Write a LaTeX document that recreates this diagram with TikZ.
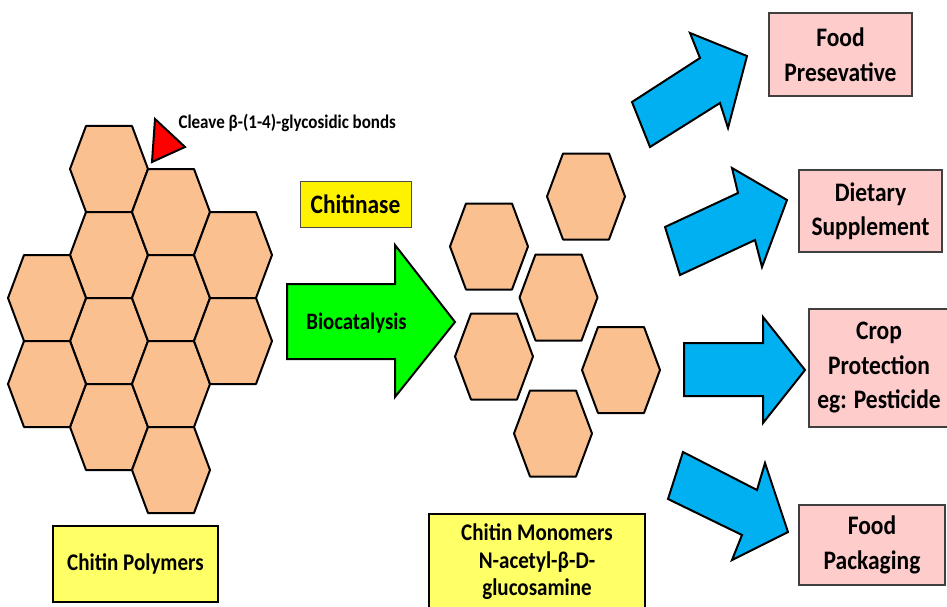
\documentclass[tikz,border=0pt]{standalone}
\usepackage{fontspec}
\setmainfont{Carlito}[FakeStretch=0.88]
\usepackage{tikz}
\definecolor{hexorange}{RGB}{250,192,144}
\definecolor{boxpink}{RGB}{255,204,204}
\definecolor{paleyellow}{RGB}{255,255,102}
\definecolor{arrowblue}{RGB}{0,176,240}
\tikzset{
    hexa/.pic={\draw[line width=2pt,line join=round,fill=hexorange] (-39,0) -- (-23,-43) -- (23,-43) -- (39,0) -- (23,43) -- (-23,43) -- cycle;},
    pinkbox/.style={draw=black!75,line width=1.2pt,fill=boxpink,align=center,font=\fontsize{26.7}{34.5}\selectfont\bfseries},
    ybox/.style={draw,line width=2pt,fill=paleyellow,align=center,font=\fontsize{23.9}{27.5}\selectfont\bfseries},
    blockarrow/.style={draw,line width=2pt,line join=miter},
  }

\begin{document}
\begin{tikzpicture}[x=1pt,y=-1pt]
  \useasboundingbox (0,0) rectangle (947,607);
  \clip (0,0) rectangle (947,607);
  % chitin polymer (left cluster)
  \pic at (109,169) {hexa};
  \pic at (109,255) {hexa};
  \pic at (109,341) {hexa};
  \pic at (109,427) {hexa};
  \pic at (171,212) {hexa};
  \pic at (171,298) {hexa};
  \pic at (171,384) {hexa};
  \pic at (171,470) {hexa};
  \pic at (233,255) {hexa};
  \pic at (233,341) {hexa};
  \pic at (47,298) {hexa};
  \pic at (47,384) {hexa};
  % cut mark
  \filldraw[fill=red,line width=2pt,line join=miter] (155,119) -- (185,147) -- (152,162) -- cycle;
  \node[anchor=west,font=\fontsize{19.3}{22}\selectfont\bfseries] (cleave) at (175,123) {Cleave β-(1-4)-glycosidic bonds};
  % enzyme
  \node[draw=black!70,line width=1pt,fill=yellow,minimum width=111pt,minimum height=46pt,font=\fontsize{26.6}{30}\selectfont\bfseries] (chitinase) at (355.5,204) {Chitinase};
  \draw[blockarrow,fill=green] (287,284) -- (395,284) -- (395,245) -- (455,322) -- (395,397) -- (395,359) -- (287,359) -- cycle;
  \node[font=\fontsize{23.6}{27}\selectfont\bfseries] (bio) at (356.5,323) {Biocatalysis};
  % monomers (right cluster)
  \pic at (586,196.5) {hexa};
  \pic at (489,246.5) {hexa};
  \pic at (558.5,297.5) {hexa};
  \pic at (494,356.5) {hexa};
  \pic at (621,370) {hexa};
  \pic at (553,433.5) {hexa};
  % applications
  \draw[blockarrow,fill=arrowblue] (632,102) -- (700,58) -- (690,33) -- (747,56) -- (728,128) -- (720,103) -- (650,147) -- cycle;
  \draw[blockarrow,fill=arrowblue] (665,227) -- (738,193) -- (732,168) -- (787,200) -- (762,267) -- (755,240) -- (680,275) -- cycle;
  \draw[blockarrow,fill=arrowblue] (684,343) -- (763,343) -- (763,317) -- (805,370) -- (763,423) -- (763,396) -- (684,396) -- cycle;
  \draw[blockarrow,fill=arrowblue] (683,452) -- (757,490) -- (765,463) -- (788,532) -- (732,560) -- (742,535) -- (668,499) -- cycle;
  \node[pinkbox,minimum width=143pt,minimum height=83pt] (preserve) at (840.5,54.5) {Food\\Presevative};
  \node[pinkbox,minimum width=143pt,minimum height=82pt] (dietary) at (870.5,211) {Dietary\\Supplement};
  \node[pinkbox,minimum width=140pt,minimum height=118pt] (crop) at (879,368) {Crop\\Protection\\eg: Pesticide};
  \node[pinkbox,minimum width=146pt,minimum height=80pt] (packaging) at (872,545) {Food\\Packaging};
  % labels
  \node[ybox,minimum width=165pt,minimum height=76pt] (polymers) at (135.5,564) {Chitin Polymers};
  \node[ybox,minimum width=216pt,minimum height=96pt,anchor=north] (monomers) at (537,513) {Chitin Monomers\\N-acetyl-β-D-\\glucosamine};
\end{tikzpicture}
\end{document}
